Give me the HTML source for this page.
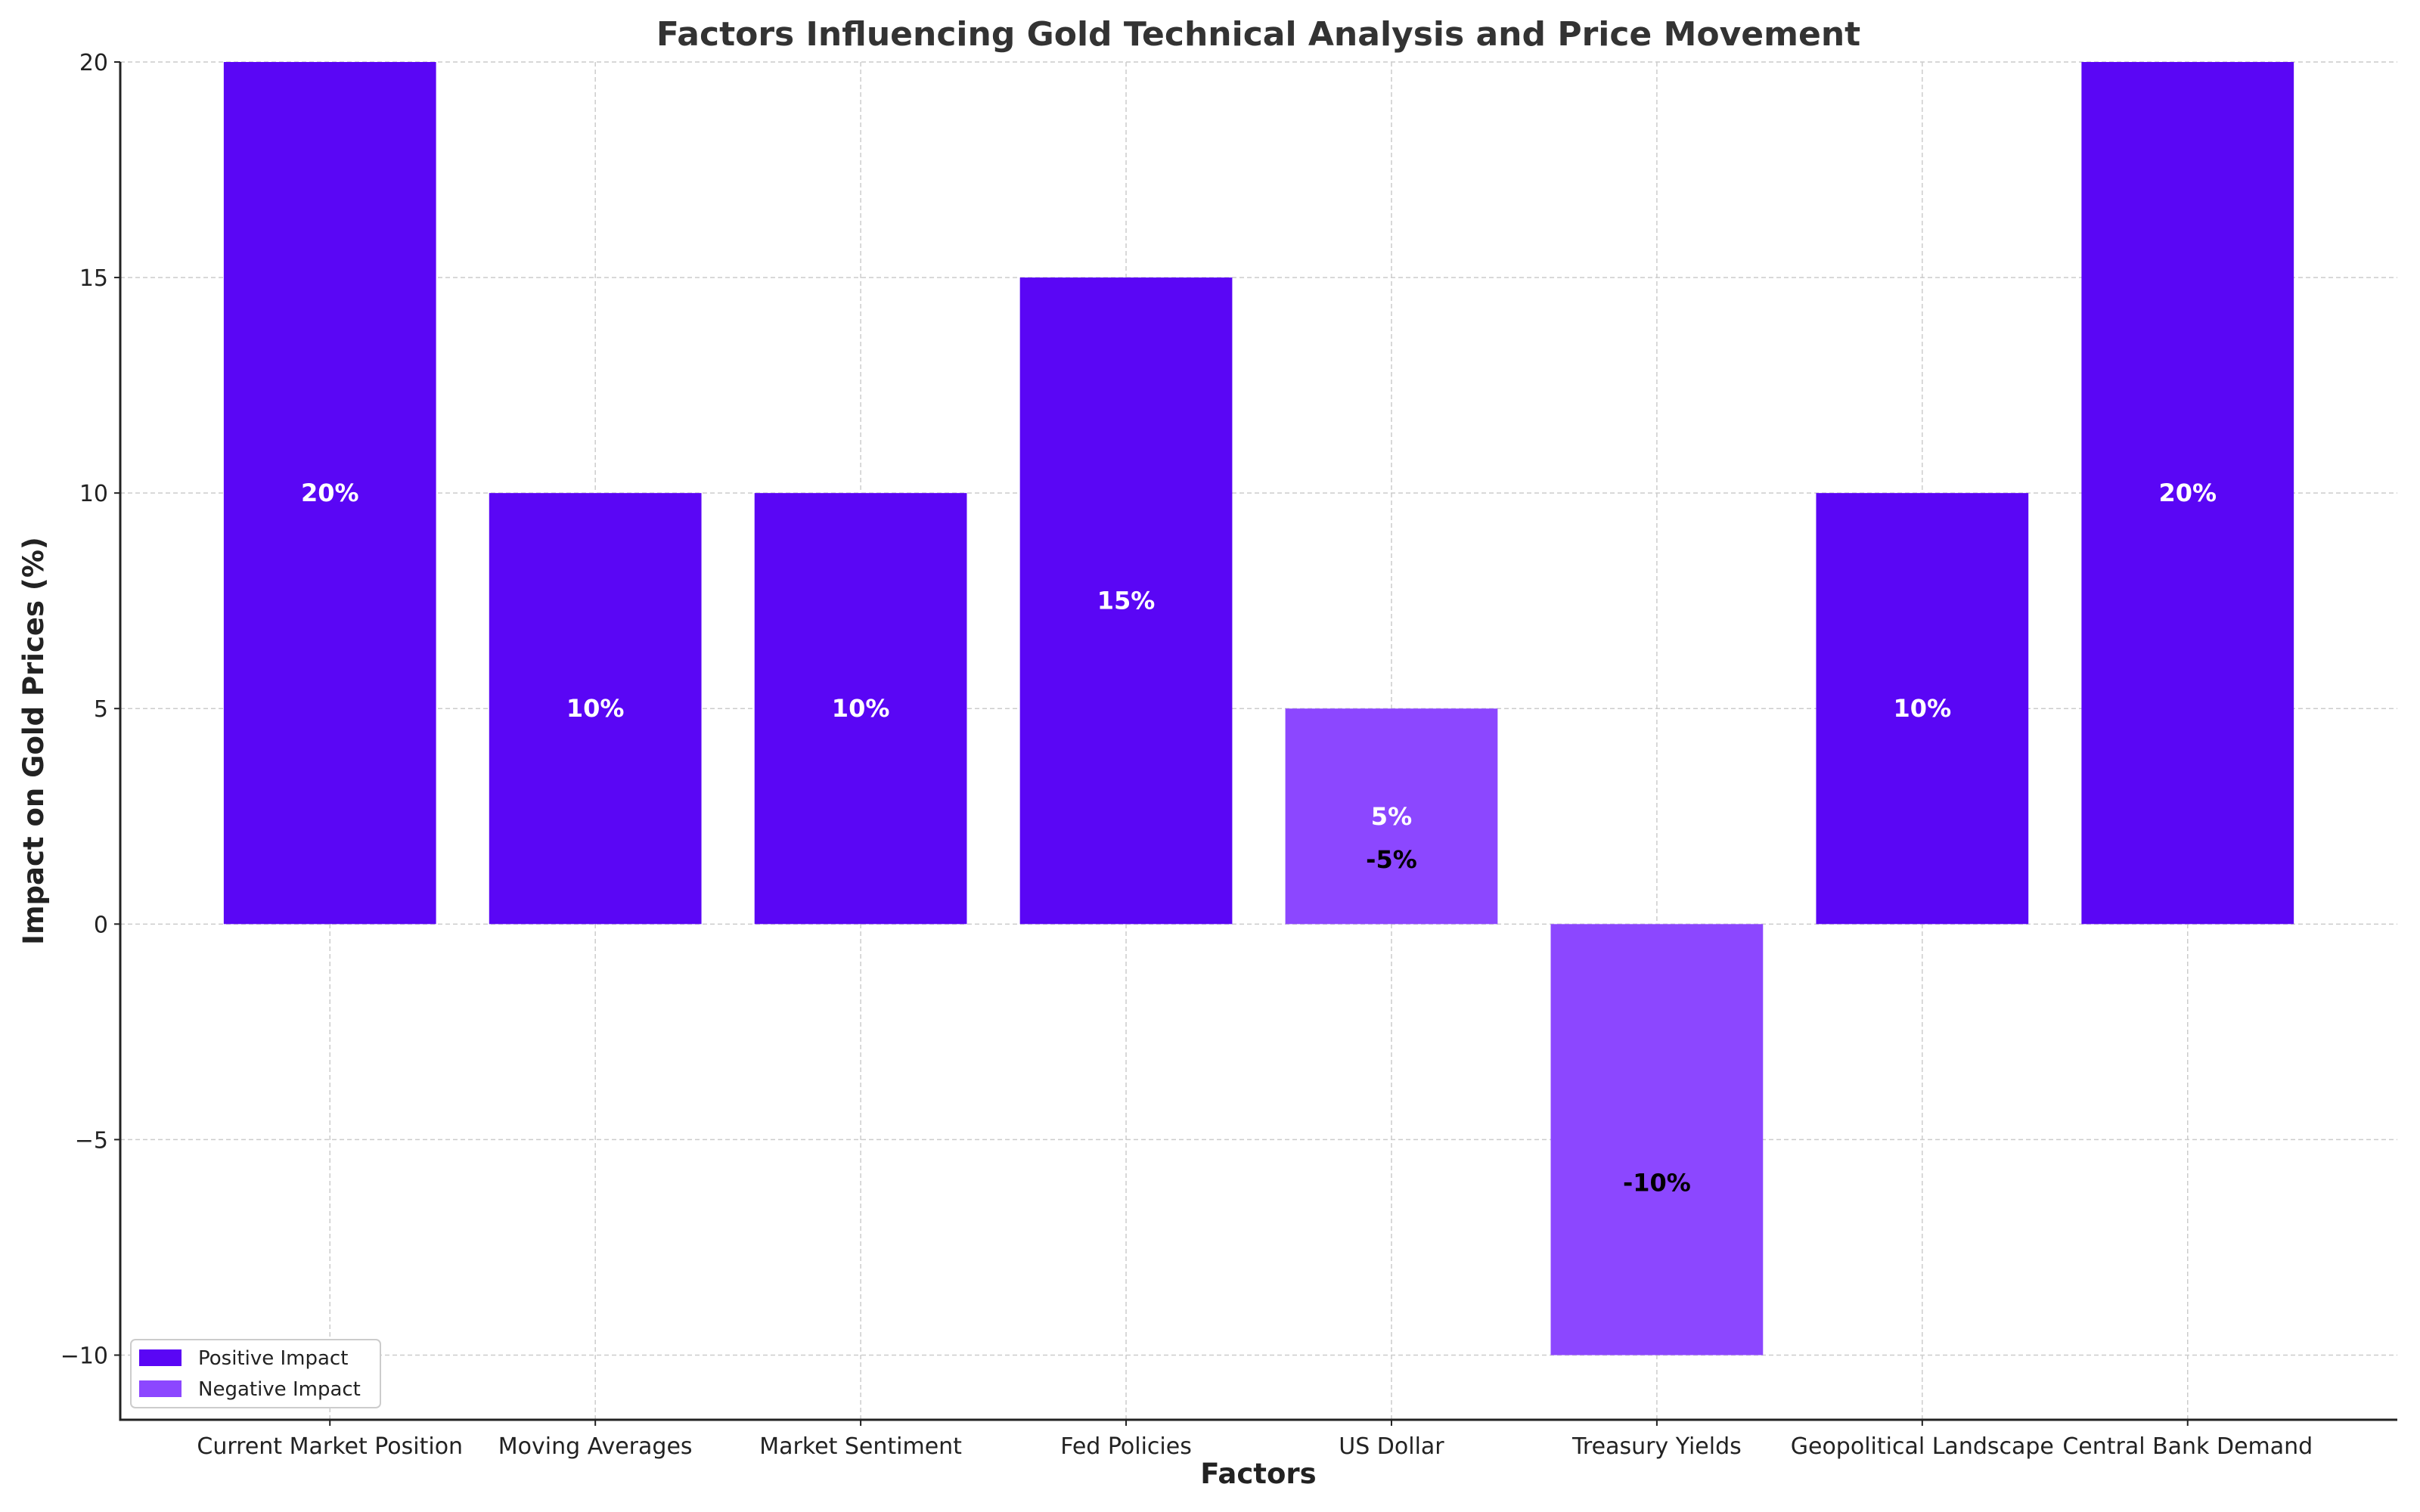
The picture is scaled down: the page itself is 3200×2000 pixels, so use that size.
<!DOCTYPE html>
<html><head><meta charset="utf-8"><style>
html,body{margin:0;padding:0;background:#fff}
svg{display:block;font-family:"DejaVu Sans","Liberation Sans",sans-serif}
</style></head><body>
<svg id="chart" width="3200" height="2000" viewBox="0 0 3200 2000">
<text x="1664" y="60" text-anchor="middle" font-size="44" font-weight="bold" fill="#333">Factors Influencing Gold Technical Analysis and Price Movement</text>
<g id="grid"></g><g id="bars"></g><g id="labels"></g><g id="axes"></g>
<text x="1664" y="1962" text-anchor="middle" font-size="37" font-weight="bold" fill="#222">Factors</text>
<text transform="translate(57,980) rotate(-90)" text-anchor="middle" font-size="37" font-weight="bold" fill="#222">Impact on Gold Prices (%)</text>
<g>
<rect x="173" y="1772" width="330" height="90" rx="6" fill="#fff" stroke="#ccc" stroke-width="2"/>
<rect x="184" y="1785" width="56" height="22" fill="#5a06f5"/>
<text x="262" y="1805" font-size="26" fill="#222">Positive Impact</text>
<rect x="184" y="1826" width="56" height="22" fill="#8c47ff"/>
<text x="262" y="1846" font-size="26" fill="#222">Negative Impact</text>
</g>
</svg>
<script>
const categories=["Current Market Position","Moving Averages","Market Sentiment","Fed Policies","US Dollar","Treasury Yields","Geopolitical Landscape","Central Bank Demand"];
const values=[20,10,10,15,5,-10,10,20];
const isNegative=[false,false,false,false,true,true,false,false];
const barLabels=["20%","10%","10%","15%","5%","","10%","20%"];
const extraLabelIdx=[4,5];
const extraLabelText=["-5%","-10%"];
const extraLabelVal=[1.5,-6];
const yTicks=[-10,-5,0,5,10,15,20];
const NS="http://www.w3.org/2000/svg";
const L=159,R=3170,T=82,B=1878,yMin=-11.5,yMax=20,xMin=-0.79,xMax=7.79;
const X=i=>L+(i-xMin)/(xMax-xMin)*(R-L);
const Y=v=>B-(v-yMin)/(yMax-yMin)*(B-T);
const bw=0.8*(X(1)-X(0));
function mk(t,a,p){const e=document.createElementNS(NS,t);for(const k in a)e.setAttribute(k,a[k]);document.getElementById(p).appendChild(e);return e;}
yTicks.forEach(v=>{
 const g=mk('line',{x1:L,x2:R,y1:Y(v),y2:Y(v),stroke:'#ccc','stroke-width':1.5,'stroke-dasharray':'6,4'},'grid');
 
 
 const tk=mk('line',{x1:L-8,x2:L,y1:Y(v),y2:Y(v),stroke:'#222','stroke-width':2},'axes');
 
 
 const t=mk('text',{x:L-16,y:Y(v)+11,'text-anchor':'end','font-size':30,fill:'#222'},'axes');
 t.textContent=(v<0?'\u2212'+(-v):String(v));
 
 
});
categories.forEach((c,i)=>{
 const g=mk('line',{x1:X(i),x2:X(i),y1:T,y2:B,stroke:'#ccc','stroke-width':1.5,'stroke-dasharray':'6,4'},'grid');
 
 
 const v=values[i];
 const r=mk('rect',{x:X(i)-bw/2,y:Math.min(Y(v),Y(0)),width:bw,height:Math.abs(Y(v)-Y(0)),fill:isNegative[i]?'#8c47ff':'#5a06f5'},'bars');
 
 
 if(barLabels[i]){
  const t=mk('text',{x:X(i),y:Y(v/2)+11,'text-anchor':'middle','font-size':32,'font-weight':'bold',fill:'#fff'},'labels');
  t.textContent=barLabels[i];
  
  
 }
 const tk=mk('line',{x1:X(i),x2:X(i),y1:B,y2:B+8,stroke:'#222','stroke-width':2},'axes');
 
 
 const t=mk('text',{x:X(i),y:B+45,'text-anchor':'middle','font-size':30,fill:'#222'},'axes');
 t.textContent=c;
 
 
});
extraLabelIdx.forEach((i,k)=>{
 const t=mk('text',{x:X(i),y:Y(extraLabelVal[k])+11,'text-anchor':'middle','font-size':32,'font-weight':'bold',fill:'#000'},'labels');
 t.textContent=extraLabelText[k];
 
 
});
const ax=mk('path',{d:`M${L},${T}V${B}H${R}`,fill:'none',stroke:'#222','stroke-width':3},'axes');


</script>
</body></html>
